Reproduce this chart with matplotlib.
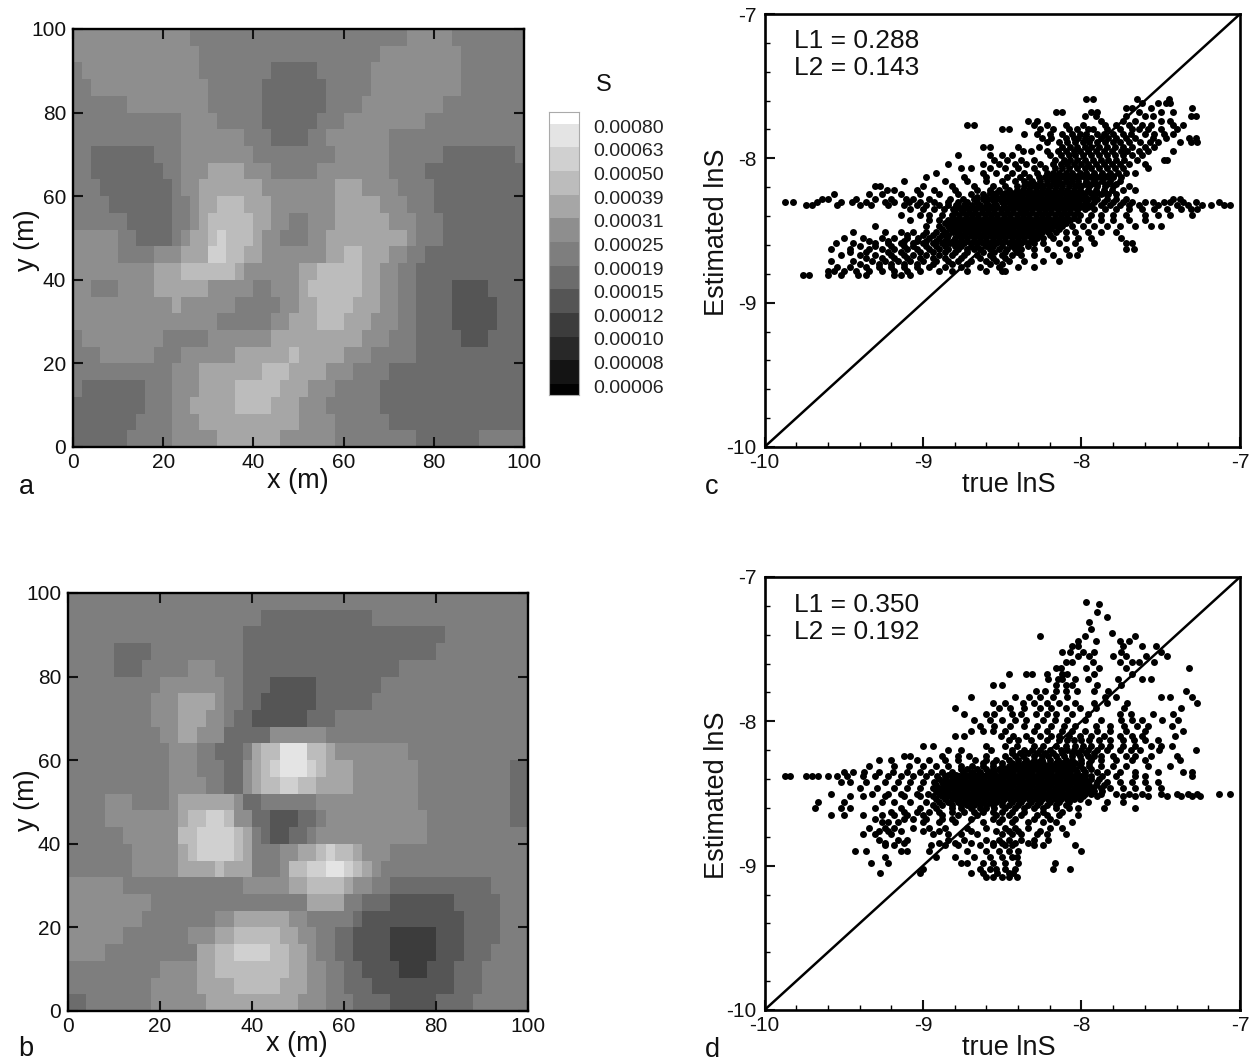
import numpy as np
from matplotlib import pyplot as plt
from matplotlib.colors import ListedColormap, BoundaryNorm
from matplotlib.ticker import MultipleLocator

# S maps. One string per 4 m row, top row first.
# Each token is grey level (hex) : x where that level stops
map_a = [
    "8:26 7:74 8:84 7:100",
    "8:28 7:68 8:86 7:100",
    "7:2 8:28 7:44 6:54 7:66 8:86 7:100",
    "7:4 8:30 7:42 6:56 7:66 8:86 7:100",
    "7:12 8:30 7:42 6:56 7:64 8:82 7:100",
    "7:24 8:32 7:42 6:54 7:60 8:78 7:100",
    "7:24 8:38 7:44 6:52 7:56 8:70 7:100",
    "7:4 6:18 7:24 8:40 7:58 8:70 7:82 6:98 7:100",
    "7:4 6:20 7:24 8:30 9:38 8:44 7:54 8:70 7:78 6:100",
    "7:6 6:22 7:24 8:28 9:42 8:58 9:64 8:72 7:80 6:100",
    "7:8 6:22 7:26 8:28 9:32 A:38 9:44 8:58 9:68 8:74 7:80 6:100",
    "7:12 6:22 7:26 8:28 9:30 A:40 9:44 8:48 7:52 8:58 9:70 8:76 7:82 6:100",
    "8:10 7:14 6:22 7:24 8:26 9:30 A:32 B:34 A:40 9:42 8:46 7:52 8:56 9:74 8:76 7:82 6:100",
    "8:10 7:18 8:24 9:30 B:34 A:38 9:42 8:56 9:60 A:64 9:70 8:74 7:78 6:100",
    "8:18 9:24 A:36 9:38 8:50 9:54 A:64 9:68 8:72 7:76 6:100",
    "8:4 7:10 8:18 9:30 8:40 7:44 8:50 9:52 A:64 9:68 8:72 7:76 6:84 5:92 6:100",
    "8:22 9:24 8:36 7:46 8:50 9:54 A:62 9:68 8:72 7:76 6:84 5:94 6:100",
    "8:32 7:44 8:48 9:54 A:60 9:66 8:72 7:76 6:84 5:94 6:100",
    "7:2 8:20 7:30 8:44 9:64 8:70 7:76 6:86 5:92 6:100",
    "7:6 8:18 7:24 8:36 9:48 A:50 9:60 8:66 7:76 6:100",
    "7:22 8:28 9:42 A:48 9:56 8:62 7:70 6:100",
    "7:2 6:16 7:22 8:28 9:36 A:46 9:52 8:58 7:68 6:100",
    "6:16 7:22 8:26 9:36 A:44 9:50 8:56 7:68 6:100",
    "6:14 7:22 8:28 9:50 8:58 7:70 6:100",
    "6:12 7:22 8:32 9:46 8:58 7:76 6:90 7:100",
]

map_b = [
    "7:100",
    "7:42 6:66 7:100",
    "7:38 6:82 7:100",
    "7:10 6:18 7:38 6:80 7:100",
    "7:10 6:16 7:26 8:32 7:38 6:72 7:100",
    "7:20 8:34 7:38 6:44 5:54 6:68 7:100",
    "7:18 8:24 9:32 8:34 7:38 6:42 5:54 6:66 7:100",
    "7:18 8:24 9:30 8:34 7:36 6:40 5:52 6:58 7:100",
    "7:20 8:24 9:28 8:34 6:44 8:56 7:100",
    "7:22 8:28 7:32 6:38 7:40 9:42 A:46 C:52 A:56 9:58 8:74 7:100",
    "7:22 8:28 7:34 6:38 8:40 9:42 A:44 B:46 C:52 B:54 A:56 9:62 8:76 7:96 6:100",
    "7:22 8:30 7:34 6:38 8:40 9:42 A:46 B:50 A:54 9:62 8:76 7:96 6:100",
    "7:8 8:14 7:22 8:24 9:36 8:38 6:42 7:54 8:76 7:96 6:100",
    "7:8 8:24 9:26 A:30 B:34 A:36 8:40 6:44 5:50 6:54 7:56 8:78 7:96 6:100",
    "7:12 8:24 A:28 B:36 A:38 9:40 7:42 6:44 5:48 6:52 7:54 8:78 7:100",
    "7:14 8:24 9:26 A:28 B:36 A:38 9:40 7:46 8:50 9:54 A:56 B:58 A:62 9:64 8:70 7:100",
    "7:14 8:24 9:32 A:34 9:40 7:46 8:48 A:52 B:56 C:60 B:62 A:64 9:66 8:68 7:100",
    "8:12 7:38 8:48 9:52 A:60 9:62 8:66 7:70 6:92 7:100",
    "8:18 7:52 9:60 7:64 6:70 5:84 6:94 7:100",
    "8:16 7:32 8:36 9:48 8:52 7:62 6:64 5:86 6:94 7:100",
    "8:12 7:26 8:32 9:36 A:46 9:50 8:54 7:58 6:62 5:70 4:80 5:86 6:94 7:100",
    "8:8 7:28 9:32 A:36 B:44 A:48 9:52 8:54 7:58 6:62 5:70 4:80 5:86 6:92 7:100",
    "7:20 8:28 9:32 A:48 9:52 8:56 7:60 6:64 5:72 4:78 5:84 6:90 7:100",
    "7:18 8:28 9:36 A:46 9:52 8:56 7:60 6:66 5:84 6:90 7:100",
    "6:4 7:18 8:30 9:50 8:56 7:62 6:70 5:80 6:88 7:100",
]

# legend bands, bottom to top
band_grays = ["#020202", "#141414", "#282828", "#3c3c3c", "#555555", "#6c6c6c", "#7e7e7e",
              "#8e8e8e", "#a6a6a6", "#bcbcbc", "#d0d0d0", "#e4e4e4", "#ffffff"]
band_labels = ["0.00006", "0.00008", "0.00010", "0.00012", "0.00015", "0.00019",
               "0.00025", "0.00031", "0.00039", "0.00050", "0.00063", "0.00080"]

# scatter points, estimated lnS : true lnS values
rows_c = {
    -7.59: [-7.97, -7.93, -7.65, -7.45],
    -7.62: [-7.62, -7.52, -7.47, -7.44],
    -7.65: [-7.72, -7.68, -7.56, -7.30],
    -7.68: [-8.16, -8.12, -7.94, -7.90, -7.64, -7.50, -7.42],
    -7.71: [-7.98, -7.91, -7.72, -7.60, -7.55, -7.31, -7.28],
    -7.74: [-8.34, -8.28, -7.88, -7.74, -7.66, -7.50, -7.44],
    -7.77: [-8.72, -8.68, -8.30, -8.22, -8.10, -7.99, -7.85, -7.78, -7.70, -7.62, -7.56, -7.42, -7.36],
    -7.80: [-8.50, -8.46, -8.26, -8.18, -8.08, -8.03, -7.96, -7.93, -7.84, -7.76, -7.68, -7.64, -7.58, -7.50, -7.40],
    -7.83: [-8.36, -8.28, -8.20, -8.12, -8.06, -8.01, -7.97, -7.90, -7.86, -7.80, -7.74, -7.69, -7.60, -7.54, -7.48, -7.42],
    -7.86: [-8.25, -8.19, -8.10, -8.05, -8.02, -7.98, -7.94, -7.88, -7.83, -7.78, -7.72, -7.66, -7.55, -7.47, -7.32, -7.28],
    -7.89: [-8.22, -8.14, -8.09, -8.04, -7.99, -7.95, -7.90, -7.85, -7.80, -7.76, -7.70, -7.63, -7.57, -7.52, -7.38, -7.31, -7.27],
    -7.92: [-8.62, -8.58, -8.40, -8.27, -8.12, -8.07, -8.03, -7.98, -7.94, -7.89, -7.84, -7.79, -7.74, -7.68, -7.60, -7.54],
    -7.95: [-8.37, -8.32, -8.22, -8.15, -8.10, -8.05, -8.01, -7.96, -7.91, -7.86, -7.81, -7.75, -7.71, -7.64, -7.58, -7.42],
    -7.98: [-8.78, -8.58, -8.50, -8.44, -8.20, -8.13, -8.08, -8.04, -7.99, -7.94, -7.89, -7.84, -7.79, -7.74, -7.68, -7.62],
    -8.01: [-8.55, -8.47, -8.38, -8.30, -8.17, -8.11, -8.07, -8.03, -7.98, -7.93, -7.88, -7.83, -7.78, -7.73, -7.65, -7.48, -7.46],
    -8.04: [-8.84, -8.62, -8.52, -8.42, -8.35, -8.26, -8.18, -8.13, -8.09, -8.05, -8.00, -7.96, -7.91, -7.86, -7.81, -7.76, -7.70, -7.60],
    -8.07: [-8.76, -8.70, -8.58, -8.48, -8.40, -8.30, -8.23, -8.17, -8.12, -8.08, -8.03, -7.98, -7.94, -7.89, -7.84, -7.79, -7.74, -7.58],
    -8.10: [-8.92, -8.62, -8.54, -8.44, -8.36, -8.28, -8.22, -8.18, -8.14, -8.10, -8.06, -8.01, -7.97, -7.92, -7.87, -7.82, -7.77, -7.72, -7.66],
    -8.13: [-8.98, -8.74, -8.60, -8.47, -8.39, -8.33, -8.27, -8.23, -8.19, -8.15, -8.11, -8.07, -8.03, -7.98, -7.94, -7.90, -7.85, -7.80, -7.75],
    -8.16: [-9.12, -8.86, -8.72, -8.60, -8.50, -8.42, -8.36, -8.31, -8.26, -8.22, -8.18, -8.14, -8.10, -8.06, -8.02, -7.97, -7.92, -7.87, -7.82, -7.76],
    -8.19: [-9.30, -9.27, -9.00, -8.82, -8.68, -8.56, -8.48, -8.41, -8.36, -8.32, -8.28, -8.24, -8.20, -8.16, -8.12, -8.08, -8.04, -8.00, -7.95, -7.90, -7.85, -7.80, -7.70],
    -8.22: [-9.23, -9.18, -9.04, -8.93, -8.80, -8.66, -8.58, -8.52, -8.46, -8.41, -8.37, -8.33, -8.29, -8.25, -8.21, -8.17, -8.13, -8.09, -8.05, -8.01, -7.96, -7.91, -7.86, -7.81, -7.74, -7.66],
    -8.25: [-9.56, -9.34, -9.26, -9.14, -9.02, -8.90, -8.78, -8.70, -8.62, -8.56, -8.50, -8.46, -8.42, -8.38, -8.34, -8.30, -8.26, -8.22, -8.18, -8.14, -8.10, -8.06, -8.02, -7.98, -7.93, -7.88, -7.83, -7.78],
    -8.28: [-9.64, -9.60, -9.42, -9.30, -9.20, -9.11, -9.06, -8.96, -8.83, -8.75, -8.68, -8.62, -8.57, -8.52, -8.48, -8.44, -8.40, -8.36, -8.32, -8.28, -8.24, -8.20, -8.16, -8.12, -8.08, -8.04, -8.00, -7.96, -7.90, -7.84, -7.78, -7.72, -7.42, -7.38],
    -8.30: [-9.87, -9.82, -9.67, -9.52, -9.45, -9.36, -9.24, -9.18, -9.09, -9.02, -8.93, -8.84, -8.78, -8.72, -8.66, -8.60, -8.55, -8.50, -8.46, -8.42, -8.38, -8.34, -8.30, -8.26, -8.22, -8.18, -8.14, -8.10, -8.06, -8.02, -7.97, -7.92, -7.86, -7.80, -7.74, -7.68, -7.60, -7.55, -7.48, -7.44, -7.36, -7.28, -7.13],
    -8.32: [-9.74, -9.70, -9.54, -9.40, -9.33, -9.22, -9.12, -9.04, -8.98, -8.90, -8.84, -8.79, -8.74, -8.69, -8.64, -8.59, -8.54, -8.49, -8.44, -8.40, -8.36, -8.32, -8.28, -8.24, -8.20, -8.16, -8.12, -8.08, -8.04, -7.99, -7.94, -7.88, -7.82, -7.76, -7.70, -7.64, -7.52, -7.40, -7.33, -7.24, -7.18, -7.10, -7.06],
    -8.35: [-9.08, -9.00, -8.93, -8.87, -8.81, -8.76, -8.71, -8.67, -8.63, -8.59, -8.55, -8.51, -8.47, -8.43, -8.39, -8.35, -8.31, -8.27, -8.23, -8.19, -8.15, -8.11, -8.07, -8.03, -7.98, -7.92, -7.85, -7.78, -7.70, -7.62, -7.54, -7.46, -7.37, -7.31, -7.27],
    -8.39: [-9.14, -9.02, -8.96, -8.88, -8.82, -8.77, -8.73, -8.69, -8.65, -8.61, -8.57, -8.53, -8.49, -8.45, -8.41, -8.37, -8.33, -8.29, -8.25, -8.21, -8.17, -8.13, -8.09, -8.05, -8.01, -7.94, -7.88, -7.80, -7.72, -7.60, -7.52, -7.44, -7.30],
    -8.43: [-9.08, -8.96, -8.90, -8.84, -8.79, -8.75, -8.71, -8.67, -8.63, -8.59, -8.55, -8.51, -8.47, -8.43, -8.39, -8.35, -8.31, -8.27, -8.23, -8.19, -8.15, -8.11, -8.07, -8.02, -7.96, -7.88, -7.80, -7.70, -7.60],
    -8.47: [-9.30, -8.98, -8.90, -8.84, -8.80, -8.76, -8.72, -8.68, -8.64, -8.60, -8.56, -8.52, -8.48, -8.44, -8.40, -8.36, -8.32, -8.28, -8.24, -8.20, -8.16, -8.12, -8.06, -7.99, -7.92, -7.84, -7.76, -7.66, -7.56, -7.50],
    -8.51: [-9.44, -9.24, -9.14, -9.06, -8.98, -8.92, -8.86, -8.81, -8.77, -8.73, -8.69, -8.65, -8.61, -8.57, -8.53, -8.49, -8.45, -8.41, -8.37, -8.33, -8.29, -8.25, -8.21, -8.16, -8.10, -8.04, -7.96, -7.88, -7.78],
    -8.55: [-9.50, -9.38, -9.26, -9.18, -9.10, -9.03, -8.96, -8.90, -8.85, -8.80, -8.76, -8.72, -8.68, -8.64, -8.60, -8.56, -8.52, -8.48, -8.44, -8.40, -8.36, -8.32, -8.28, -8.24, -8.18, -8.10, -8.02, -7.94, -7.75],
    -8.59: [-9.55, -9.44, -9.30, -9.22, -9.14, -9.06, -9.00, -8.94, -8.88, -8.83, -8.78, -8.74, -8.70, -8.66, -8.62, -8.58, -8.54, -8.50, -8.46, -8.42, -8.38, -8.34, -8.30, -8.24, -8.14, -8.04, -7.92, -7.72, -7.68],
    -8.63: [-9.58, -9.46, -9.34, -9.26, -9.18, -9.10, -9.04, -8.96, -8.90, -8.84, -8.78, -8.72, -8.68, -8.64, -8.58, -8.52, -8.47, -8.42, -8.38, -8.30, -8.22, -8.10, -8.01, -7.72, -7.67],
    -8.67: [-9.52, -9.40, -9.30, -9.20, -9.12, -9.06, -8.98, -8.90, -8.82, -8.74, -8.66, -8.58, -8.50, -8.44, -8.38, -8.30, -8.18, -8.08, -8.03],
    -8.71: [-9.58, -9.44, -9.32, -9.24, -9.16, -9.08, -9.00, -8.92, -8.84, -8.78, -8.70, -8.60, -8.54, -8.46, -8.36, -8.24, -8.14],
    -8.75: [-9.54, -9.46, -9.36, -9.28, -9.20, -9.12, -9.04, -8.96, -8.86, -8.76, -8.64, -8.52, -8.40, -8.30],
    -8.78: [-9.60, -9.56, -9.50, -9.42, -9.34, -9.26, -9.18, -9.10, -9.02, -8.90, -8.82, -8.72, -8.60, -8.50, -8.48],
    -8.81: [-9.76, -9.72, -9.60, -9.52, -9.41, -9.36, -9.18, -9.14, -9.08],
}

# points in the solid black core of panel c, between the rows above
core_c = {
    -8.12: [-8.16, -8.12, -8.08, -8.04, -8.00, -7.96, -7.92, -7.88, -7.84, -7.80],
    -8.18: [-8.34, -8.30, -8.26, -8.22, -8.16, -8.12, -8.08, -8.02, -7.98, -7.94, -7.90, -7.84, -7.78],
    -8.24: [-8.58, -8.54, -8.48, -8.44, -8.40, -8.36, -8.32, -8.27, -8.23, -8.19, -8.15, -8.11, -8.07, -8.03, -7.99, -7.94, -7.90, -7.85],
    -8.27: [-8.66, -8.60, -8.54, -8.50, -8.46, -8.42, -8.38, -8.34, -8.30, -8.26, -8.22, -8.18, -8.14, -8.10, -8.06, -8.02, -7.98, -7.93],
    -8.34: [-8.78, -8.73, -8.69, -8.65, -8.61, -8.57, -8.53, -8.49, -8.45, -8.41, -8.37, -8.33, -8.29, -8.25, -8.21, -8.17, -8.13, -8.09, -8.05, -8.01, -7.96],
    -8.37: [-8.80, -8.75, -8.71, -8.67, -8.63, -8.59, -8.55, -8.51, -8.47, -8.43, -8.39, -8.35, -8.31, -8.27, -8.23, -8.19, -8.15, -8.11, -8.07, -8.03],
    -8.41: [-8.81, -8.77, -8.73, -8.69, -8.65, -8.61, -8.57, -8.53, -8.49, -8.45, -8.41, -8.37, -8.33, -8.29, -8.25, -8.21, -8.17, -8.13, -8.09, -8.05],
    -8.45: [-8.86, -8.82, -8.78, -8.74, -8.70, -8.66, -8.62, -8.58, -8.54, -8.50, -8.46, -8.42, -8.38, -8.34, -8.30, -8.26, -8.22, -8.18, -8.14, -8.10],
    -8.49: [-8.88, -8.83, -8.79, -8.75, -8.71, -8.67, -8.63, -8.59, -8.55, -8.51, -8.47, -8.43, -8.39, -8.35, -8.31, -8.27, -8.23, -8.19, -8.14],
    -8.53: [-9.10, -9.00, -8.94, -8.88, -8.84, -8.78, -8.74, -8.70, -8.66, -8.62, -8.58, -8.54, -8.50, -8.46, -8.42, -8.38, -8.34, -8.30, -8.26, -8.20],
    -8.57: [-9.34, -9.22, -9.12, -9.04, -8.98, -8.92, -8.86, -8.81, -8.76, -8.72, -8.68, -8.64, -8.60, -8.56, -8.52, -8.48, -8.44, -8.40, -8.36, -8.31],
    -8.61: [-9.40, -9.30, -9.20, -9.12, -9.06, -8.98, -8.92, -8.86, -8.80, -8.76, -8.70, -8.66, -8.60, -8.56, -8.50, -8.44, -8.40, -8.34],
    -8.65: [-9.46, -9.36, -9.22, -9.14, -9.02, -8.94, -8.86, -8.80, -8.72, -8.62, -8.55, -8.48, -8.41],
    -8.69: [-9.36, -9.26, -9.18, -9.10, -9.02, -8.94, -8.86, -8.76, -8.64, -8.56, -8.48],
    -8.73: [-9.40, -9.28, -9.20, -9.12, -9.04, -8.94, -8.82, -8.72, -8.58, -8.50],
}

rows_d = {
    -7.17: [-7.97],
    -7.19: [-7.89],
    -7.24: [-7.90],
    -7.28: [-7.84],
    -7.31: [-7.95],
    -7.36: [-7.94],
    -7.39: [-7.81],
    -7.41: [-8.26, -7.98, -7.66],
    -7.44: [-8.02, -7.91, -7.76, -7.70],
    -7.48: [-8.06, -8.02, -7.74, -7.62, -7.53],
    -7.52: [-8.12, -8.07, -7.99, -7.92, -7.75, -7.50],
    -7.55: [-8.02, -7.95, -7.80, -7.72, -7.59, -7.46],
    -7.59: [-8.10, -8.06, -7.93, -7.76, -7.68, -7.64, -7.54],
    -7.63: [-8.16, -8.13, -7.97, -7.89, -7.72, -7.32],
    -7.67: [-8.46, -8.35, -8.31, -8.22, -8.12, -8.09, -7.92, -7.68],
    -7.71: [-8.21, -8.15, -8.12, -8.04, -7.96, -7.77, -7.56, -7.62],
    -7.75: [-8.56, -8.50, -8.16, -8.10, -8.06, -7.90, -7.75],
    -7.79: [-8.29, -8.23, -8.16, -8.10, -8.03, -7.92, -7.83, -7.34],
    -7.83: [-8.70, -8.42, -8.33, -8.26, -8.18, -8.09, -7.85, -7.78, -7.50, -7.44, -7.30],
    -7.87: [-8.56, -8.48, -8.37, -8.30, -8.22, -8.14, -8.04, -7.92, -7.84, -7.71, -7.27],
    -7.91: [-8.80, -8.52, -8.45, -8.36, -8.26, -8.19, -8.10, -8.01, -7.91, -7.73, -7.37],
    -7.95: [-8.74, -8.60, -8.55, -8.44, -8.38, -8.29, -8.22, -8.16, -8.06, -7.96, -7.76, -7.69, -7.55, -7.42],
    -7.99: [-8.68, -8.58, -8.50, -8.42, -8.35, -8.24, -8.17, -8.09, -7.98, -7.88, -7.75, -7.68, -7.62, -7.49, -7.39],
    -8.03: [-8.64, -8.55, -8.45, -8.36, -8.28, -8.19, -8.11, -8.04, -7.91, -7.82, -7.73, -7.65, -7.58, -7.43],
    -8.07: [-8.70, -8.62, -8.56, -8.48, -8.30, -8.22, -8.12, -8.06, -7.98, -7.90, -7.82, -7.72, -7.60, -7.36],
    -8.10: [-8.80, -8.74, -8.51, -8.43, -8.35, -8.26, -8.19, -8.14, -8.08, -8.01, -7.94, -7.86, -7.76, -7.68, -7.62, -7.41],
    -8.13: [-8.46, -8.40, -8.32, -8.22, -8.14, -8.09, -8.05, -8.00, -7.95, -7.89, -7.82, -7.74, -7.67, -7.60, -7.52],
    -8.17: [-9.00, -8.94, -8.60, -8.48, -8.41, -8.30, -8.24, -8.16, -8.10, -8.04, -7.99, -7.94, -7.88, -7.82, -7.74, -7.66, -7.56, -7.50, -7.43],
    -8.20: [-8.84, -8.76, -8.57, -8.44, -8.36, -8.31, -8.26, -8.20, -8.13, -8.09, -8.05, -8.00, -7.96, -7.90, -7.84, -7.76, -7.69, -7.63, -7.51, -7.28],
    -8.24: [-9.12, -9.08, -8.88, -8.78, -8.71, -8.60, -8.48, -8.42, -8.37, -8.30, -8.25, -8.21, -8.16, -8.11, -8.06, -8.01, -7.96, -7.92, -7.88, -7.80, -7.72, -7.66, -7.56, -7.40],
    -8.27: [-9.28, -9.20, -9.04, -8.96, -8.86, -8.78, -8.67, -8.60, -8.54, -8.46, -8.40, -8.35, -8.30, -8.25, -8.20, -8.15, -8.10, -8.06, -8.00, -7.94, -7.88, -7.78, -7.68, -7.60, -7.38],
    -8.31: [-9.34, -9.18, -9.09, -9.00, -8.92, -8.84, -8.76, -8.69, -8.62, -8.56, -8.50, -8.46, -8.42, -8.38, -8.34, -8.30, -8.26, -8.22, -8.18, -8.14, -8.10, -8.06, -8.01, -7.95, -7.88, -7.80, -7.72, -7.58, -7.44],
    -8.35: [-9.50, -9.44, -9.37, -9.28, -9.19, -9.10, -9.02, -8.95, -8.88, -8.82, -8.75, -8.69, -8.64, -8.59, -8.55, -8.51, -8.47, -8.43, -8.39, -8.35, -8.31, -8.27, -8.23, -8.19, -8.15, -8.11, -8.07, -8.03, -7.98, -7.90, -7.84, -7.76, -7.66, -7.52, -7.36, -7.30],
    -8.38: [-9.87, -9.84, -9.74, -9.70, -9.66, -9.60, -9.54, -9.48, -9.38, -9.30, -9.22, -9.14, -9.06, -8.98, -8.91, -8.86, -8.81, -8.77, -8.73, -8.69, -8.65, -8.61, -8.57, -8.53, -8.49, -8.45, -8.41, -8.37, -8.33, -8.29, -8.25, -8.21, -8.17, -8.13, -8.09, -8.05, -8.00, -7.94, -7.87, -7.78, -7.66, -7.60, -7.30],
    -8.42: [-9.52, -9.46, -9.36, -9.24, -9.16, -9.08, -9.00, -8.93, -8.88, -8.84, -8.80, -8.76, -8.72, -8.68, -8.64, -8.60, -8.56, -8.52, -8.48, -8.44, -8.40, -8.36, -8.32, -8.28, -8.24, -8.20, -8.16, -8.12, -8.08, -8.04, -8.00, -7.96, -7.90, -7.84, -7.76, -7.68, -7.60, -7.52],
    -8.46: [-9.40, -9.29, -9.18, -9.10, -9.02, -8.94, -8.89, -8.85, -8.81, -8.77, -8.73, -8.69, -8.65, -8.61, -8.57, -8.53, -8.49, -8.45, -8.41, -8.37, -8.33, -8.29, -8.25, -8.21, -8.17, -8.13, -8.09, -8.05, -8.01, -7.97, -7.93, -7.88, -7.82, -7.74, -7.66, -7.58, -7.50],
    -8.50: [-9.58, -9.32, -9.22, -9.14, -9.04, -8.97, -8.90, -8.86, -8.82, -8.78, -8.74, -8.70, -8.66, -8.62, -8.58, -8.54, -8.50, -8.46, -8.42, -8.38, -8.34, -8.30, -8.26, -8.22, -8.18, -8.14, -8.10, -8.06, -8.02, -7.98, -7.94, -7.88, -7.78, -7.70, -7.62, -7.50, -7.40, -7.33, -7.27, -7.13, -7.06],
    -8.52: [-9.46, -9.38, -9.24, -9.12, -9.02, -8.94, -8.88, -8.83, -8.79, -8.75, -8.71, -8.67, -8.63, -8.59, -8.55, -8.51, -8.47, -8.43, -8.39, -8.35, -8.31, -8.27, -8.23, -8.19, -8.15, -8.11, -8.07, -8.03, -7.99, -7.90, -7.74, -7.66, -7.58, -7.46, -7.37, -7.30, -7.25],
    -8.56: [-9.66, -9.50, -9.26, -9.18, -9.08, -8.98, -8.90, -8.84, -8.78, -8.74, -8.70, -8.66, -8.62, -8.58, -8.54, -8.50, -8.44, -8.38, -8.32, -8.26, -8.20, -8.14, -8.08, -7.96, -7.84, -7.74],
    -8.60: [-9.68, -9.52, -9.46, -9.30, -9.14, -9.02, -8.92, -8.82, -8.76, -8.70, -8.64, -8.60, -8.55, -8.48, -8.42, -8.36, -8.30, -8.24, -8.16, -8.08, -8.02, -7.86, -7.66],
    -8.65: [-9.58, -9.50, -9.38, -9.26, -9.18, -9.10, -9.00, -8.88, -8.78, -8.66, -8.54, -8.46, -8.38, -8.28, -8.22, -8.14, -8.02],
    -8.70: [-9.26, -9.22, -9.16, -9.00, -8.90, -8.80, -8.62, -8.52, -8.44, -8.34, -8.24, -8.16, -8.06],
    -8.74: [-9.34, -9.24, -9.18, -9.06, -8.96, -8.86, -8.72, -8.60, -8.48, -8.42, -8.34, -8.20, -8.12],
    -8.78: [-9.38, -9.30, -9.20, -8.94, -8.84, -8.76, -8.66, -8.50, -8.44, -8.38, -8.28, -8.22, -8.10],
    -8.82: [-9.28, -9.16, -9.10, -8.84, -8.74, -8.60, -8.52, -8.46, -8.38, -8.30, -8.21],
    -8.86: [-9.24, -9.18, -8.95, -8.86, -8.78, -8.64, -8.56, -8.48, -8.44, -8.30, -8.24, -8.04],
    -8.90: [-9.43, -9.36, -9.14, -9.10, -8.96, -8.72, -8.60, -8.52, -8.46, -8.40, -8.00],
    -8.94: [-9.24, -8.92, -8.80, -8.68, -8.58, -8.50, -8.44, -8.41],
    -8.98: [-9.33, -9.22, -8.76, -8.72, -8.62, -8.56, -8.48, -8.40, -8.17],
    -9.02: [-9.00, -8.64, -8.58, -8.54, -8.48, -8.42, -8.18, -8.07],
    -9.05: [-9.27, -9.02, -8.70, -8.62, -8.53, -8.46, -8.43],
    -9.08: [-8.60, -8.56, -8.50, -8.46, -8.41],
}

# points in the solid black core of panel d, between the rows above
core_d = {
    -8.22: [-8.44, -8.39, -8.34, -8.28, -8.23, -8.18, -8.12, -8.06, -8.02, -7.97, -7.92],
    -8.29: [-8.62, -8.56, -8.50, -8.44, -8.40, -8.36, -8.32, -8.28, -8.24, -8.20, -8.16, -8.12, -8.08, -8.04, -8.00, -7.95],
    -8.33: [-8.76, -8.72, -8.66, -8.60, -8.56, -8.52, -8.48, -8.44, -8.40, -8.36, -8.32, -8.28, -8.24, -8.20, -8.16, -8.12, -8.08, -8.04, -7.99, -7.94],
    -8.37: [-8.84, -8.79, -8.75, -8.71, -8.67, -8.63, -8.59, -8.55, -8.51, -8.47, -8.43, -8.39, -8.35, -8.31, -8.27, -8.23, -8.19, -8.15, -8.11, -8.07, -8.03, -7.98],
    -8.40: [-8.90, -8.86, -8.82, -8.78, -8.74, -8.70, -8.66, -8.62, -8.58, -8.54, -8.50, -8.46, -8.42, -8.38, -8.34, -8.30, -8.26, -8.22, -8.18, -8.14, -8.10, -8.06, -8.02, -7.98, -7.94, -7.89],
    -8.44: [-8.92, -8.87, -8.83, -8.79, -8.75, -8.71, -8.67, -8.63, -8.59, -8.55, -8.51, -8.47, -8.43, -8.39, -8.35, -8.31, -8.27, -8.23, -8.19, -8.15, -8.11, -8.07, -8.03, -7.99, -7.95, -7.91, -7.86],
    -8.48: [-8.92, -8.88, -8.84, -8.80, -8.76, -8.72, -8.68, -8.64, -8.60, -8.56, -8.52, -8.48, -8.44, -8.40, -8.36, -8.32, -8.28, -8.24, -8.20, -8.16, -8.12, -8.08, -8.04, -8.00, -7.96, -7.92, -7.87],
    -8.54: [-8.92, -8.86, -8.81, -8.77, -8.73, -8.69, -8.65, -8.61, -8.57, -8.53, -8.49, -8.45, -8.41, -8.37, -8.33, -8.29, -8.25, -8.21, -8.17, -8.13, -8.09, -8.05, -8.01],
    -8.58: [-8.94, -8.88, -8.82, -8.76, -8.72, -8.68, -8.64, -8.60, -8.56, -8.50, -8.46, -8.40, -8.34, -8.28, -8.22, -8.16, -8.10],
    -8.63: [-9.20, -9.12, -9.04, -8.96, -8.90, -8.82, -8.74, -8.68, -8.62, -8.56, -8.50, -8.44, -8.36, -8.24, -8.12],
    -8.68: [-9.30, -9.12, -9.06, -8.98, -8.88, -8.82, -8.70, -8.56, -8.50, -8.42, -8.30, -8.20],
    -8.76: [-9.28, -9.22, -9.14, -9.00, -8.90, -8.70, -8.54, -8.46, -8.40, -8.26],
    -8.84: [-9.24, -9.12, -8.90, -8.80, -8.70, -8.56, -8.50, -8.42, -8.34],
}

map_ticks = [0, 20, 40, 60, 80, 100]
scatter_ticks = [-10, -9, -8, -7]

W, H = 1253, 1064
FONT = "Liberation Sans"
plt.rcParams["font.family"] = FONT
plt.rcParams["axes.unicode_minus"] = False

cmap = ListedColormap(band_grays)
norm = BoundaryNorm(np.arange(-0.5, 13.5), cmap.N)


def box(left, top, right, bottom):
    return [left / W, 1 - bottom / H, (right - left) / W, (bottom - top) / H]


def put_text(fig, x, y, s, size=19.5, **kw):
    fig.text(x / W, 1 - y / H, s, fontsize=size, ha="center", va="center", color="#111111", **kw)


def decode_map(rows):
    cells = np.zeros((len(rows), 50), dtype=int)
    for i, row in enumerate(rows):
        start = 0
        for token in row.split():
            code, stop = token.split(":")
            # codes in the strings start one above the legend band numbers
            cells[len(rows) - 1 - i, start // 2:int(stop) // 2] = int(code, 16) - 1
            start = int(stop)
    return cells


def draw_map(fig, rect, rows):
    ax = fig.add_axes(box(*rect))
    ax.pcolormesh(np.arange(0, 101, 2), np.arange(0, 101, 4), decode_map(rows), cmap=cmap, norm=norm)
    ax.set_xlim(0, 100)
    ax.set_ylim(0, 100)
    ax.set_xticks(map_ticks)
    ax.set_yticks(map_ticks)
    ax.tick_params(direction="in", length=7, width=1.5, top=True, right=True, labelsize=15,
                   colors="#111111", zorder=5)
    ax.tick_params(axis="x", pad=4)
    ax.tick_params(axis="y", pad=5)
    for spine in ax.spines.values():
        spine.set_linewidth(1.7)
    return ax


def draw_scatter(fig, rect, rows, core):
    ax = fig.add_axes(box(*rect))
    for table in (rows, core):
        for y, xs in table.items():
            ax.scatter(xs, [y] * len(xs), s=25, c="black", linewidths=0, zorder=3)
    ax.plot(scatter_ticks[:1] + scatter_ticks[-1:], scatter_ticks[:1] + scatter_ticks[-1:],
            color="black", lw=1.8, zorder=2)
    ax.set_xlim(-10, -7)
    ax.set_ylim(-10, -7)
    ax.set_xticks(scatter_ticks)
    ax.set_yticks(scatter_ticks)
    ax.xaxis.set_minor_locator(MultipleLocator(0.2))
    ax.yaxis.set_minor_locator(MultipleLocator(0.2))
    ax.tick_params(which="major", direction="in", length=7, width=1.5, labelsize=15, colors="#111111")
    ax.tick_params(which="minor", direction="in", length=3.5, width=1)
    ax.tick_params(axis="x", which="major", pad=4)
    ax.tick_params(axis="y", which="major", pad=6)
    for spine in ax.spines.values():
        spine.set_linewidth(1.9)
    return ax


def main():
    fig = plt.figure(figsize=(W / 100, H / 100), dpi=100)

    draw_map(fig, (73, 29, 524, 447), map_a)
    put_text(fig, 298, 481, "x (m)")
    put_text(fig, 27, 240, "y (m)", rotation=90)
    put_text(fig, 26, 487, "a")

    draw_map(fig, (68, 593, 528, 1011), map_b)
    put_text(fig, 297, 1044, "x (m)")
    put_text(fig, 27, 800, "y (m)", rotation=90)
    put_text(fig, 26, 1049, "b")

    # legend strip
    cax = fig.add_axes(box(549, 112, 579, 395))
    edges = [-0.47] + list(range(12)) + [11.5]
    cax.pcolormesh([0, 1], edges, np.arange(13).reshape(-1, 1), cmap=cmap, norm=norm)
    cax.set_ylim(edges[0], edges[-1])
    cax.set_xticks([])
    cax.yaxis.tick_right()
    cax.set_yticks(np.arange(12) - 0.1)
    cax.set_yticklabels(band_labels)
    cax.tick_params(axis="y", length=0, pad=10, labelsize=14, labelcolor="#222222")
    for spine in cax.spines.values():
        spine.set_linewidth(0.8)
        spine.set_color("#aaaaaa")
    put_text(fig, 604, 85, "S", size=17)

    draw_scatter(fig, (764.5, 14, 1240, 447), rows_c, core_c)
    put_text(fig, 1009, 485, "true lnS")
    put_text(fig, 717, 232, "Estimated lnS", rotation=90)
    put_text(fig, 712, 487, "c")
    put_text(fig, 857, 41, "L1 = 0.288", size=19)
    put_text(fig, 857, 68, "L2 = 0.143", size=19)

    draw_scatter(fig, (764.5, 577, 1240, 1010), rows_d, core_d)
    put_text(fig, 1009, 1048, "true lnS")
    put_text(fig, 717, 795, "Estimated lnS", rotation=90)
    put_text(fig, 712, 1050, "d")
    put_text(fig, 857, 605, "L1 = 0.350", size=19)
    put_text(fig, 857, 632, "L2 = 0.192", size=19)

    fig.savefig("out.png", dpi=100)


if __name__ == "__main__":
    main()
